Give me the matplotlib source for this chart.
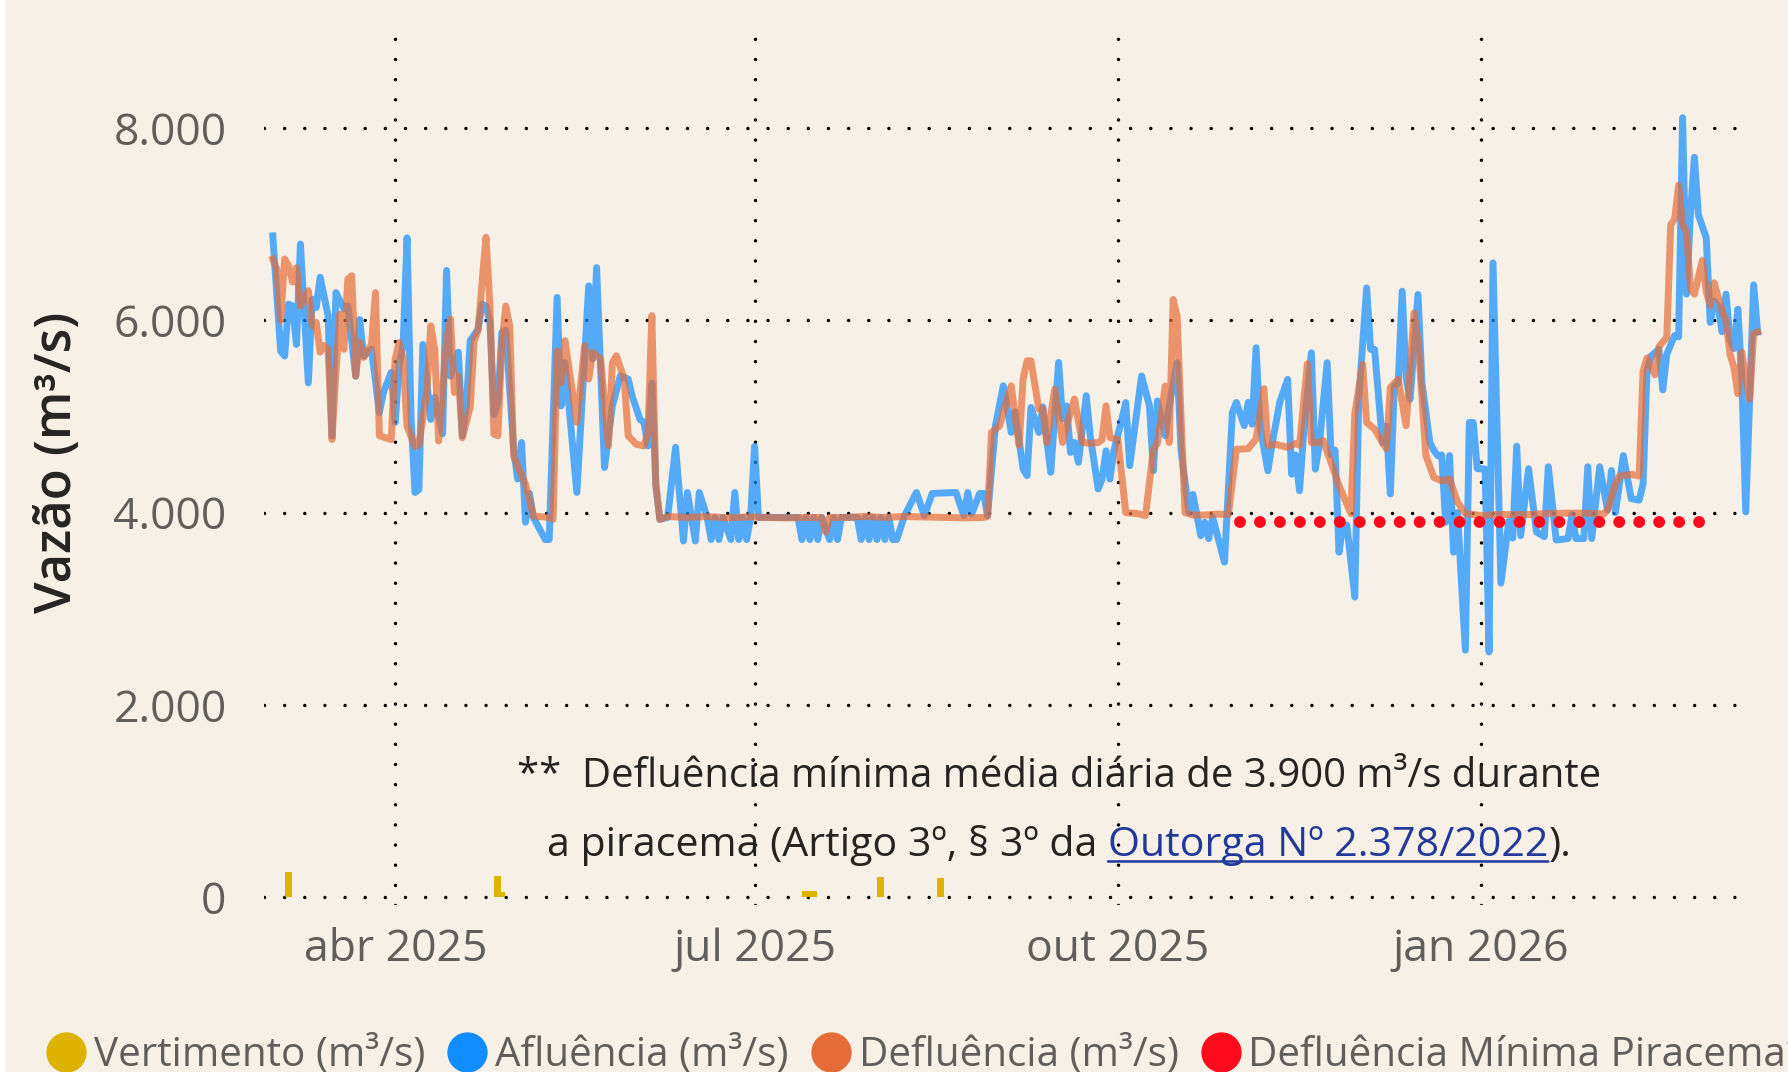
"""
Vazoes diarias (afluencia, defluencia, vertimento) mar/2025 - mar/2026
Saida: out.png (1788 x 1072)
"""

import pandas as pd
import matplotlib
matplotlib.use("Agg")
import matplotlib.pyplot as plt
from matplotlib.lines import Line2D
from matplotlib.patches import Rectangle

# --- dados (dias contados a partir de 01/03/2025) ---
INICIO = pd.Timestamp("2025-03-01")

dias_afl = [
    0, 2, 3, 4, 5, 6, 7, 9, 10, 11, 12, 14, 15, 16, 18, 19, 21, 22, 23, 25,
    27, 28, 30, 31, 32, 33, 34, 35, 36, 37, 38, 40, 41, 43, 44, 45, 47, 48, 49, 50,
    52, 53, 54, 55, 56, 57, 58, 59, 61, 62, 63, 64, 65, 66, 69, 70, 72, 73, 74, 77,
    80, 81, 82, 84, 86, 88, 90, 91, 93, 94, 95, 96, 97, 98, 100, 102, 104, 105, 107, 108,
    110, 111, 112, 113, 114, 116, 117, 118, 119, 120, 121, 122, 123, 133, 134, 135, 136, 137, 138, 139,
    141, 142, 143, 144, 148, 149, 150, 151, 152, 153, 154, 155, 156, 157, 158, 160, 163, 165, 167, 173,
    175, 176, 177, 179, 180, 181, 183, 185, 187, 188, 190, 191, 192, 194, 195, 197, 199, 200, 201, 202,
    203, 204, 206, 207, 209, 210, 211, 212, 213, 215, 216, 217, 220, 222, 223, 224, 226, 227, 229, 230,
    232, 233, 235, 236, 237, 238, 241, 243, 244, 246, 247, 248, 249, 250, 252, 253, 255, 257, 258, 259,
    260, 261, 263, 264, 265, 267, 268, 269, 270, 271, 272, 274, 275, 277, 278, 279, 281, 282, 283, 284,
    285, 286, 287, 288, 290, 291, 293, 294, 295, 296, 297, 298, 299, 300, 302, 303, 304, 305, 306, 307,
    308, 309, 311, 313, 314, 315, 316, 318, 320, 321, 322, 323, 325, 328, 329, 330, 332, 333, 334, 336,
    338, 339, 340, 342, 344, 346, 347, 348, 349, 351, 352, 353, 355, 356, 357, 358, 359, 360, 361, 363,
    364, 365, 366, 367, 368, 369, 370, 371, 372, 373, 375, 376,
]
afluencia = [
    6880, 5680, 5630, 6170, 6150, 5750, 6795, 5350, 6220, 6135, 6450, 6050, 4800, 6290, 6120, 6150, 5420, 6010, 5630, 5700,
    5040, 5250, 5460, 4940, 5530, 5740, 6860, 5010, 4210, 4240, 5750, 4970, 5200, 4820, 6520, 5420, 5670, 4800, 5100, 5790,
    5910, 6170, 6150, 5980, 5020, 5130, 5875, 5900, 4660, 4350, 4730, 3900, 4200, 3950, 3720, 3720, 6240, 5110, 5560, 4210,
    6360, 5600, 6550, 4470, 5110, 5424, 5390, 5215, 4970, 4940, 4695, 5350, 4280, 3930, 3950, 4680, 3705, 4210, 3705, 4210,
    3950, 3720, 3950, 3720, 3950, 3720, 4210, 3720, 3950, 3720, 3950, 4690, 3950, 3950, 3720, 3950, 3720, 3950, 3720, 3950,
    3720, 3950, 3720, 3950, 3950, 3720, 3950, 3720, 3950, 3720, 3950, 3720, 3950, 3720, 3720, 3970, 4210, 3970, 4200, 4210,
    3970, 4210, 3990, 4200, 4200, 3970, 4905, 5320, 4835, 5050, 4454, 4385, 5095, 4835, 5100, 4420, 5563, 4974, 5110, 4627,
    4730, 4523, 5217, 4800, 4246, 4350, 4643, 4350, 4643, 4972, 5145, 4488, 5422, 5111, 4436, 5163, 4800, 5111, 5560, 4650,
    4000, 4190, 3760, 3900, 3730, 3950, 3485, 5042, 5147, 4905, 5147, 4920, 5716, 4900, 4436, 4700, 5150, 5387, 4400, 4600,
    4228, 4800, 5664, 4453, 4700, 5560, 4600, 4650, 3588, 3870, 3870, 3121, 5180, 6339, 5700, 5700, 4730, 4900, 4194, 5318,
    5350, 6304, 5400, 5180, 6270, 5353, 4730, 4650, 4592, 4600, 3900, 4594, 3588, 4000, 2568, 4938, 4938, 4457, 4457, 4453,
    2550, 6599, 3266, 3910, 3735, 4692, 3760, 4457, 3800, 3774, 3750, 4477, 3715, 3730, 3980, 3730, 3730, 4477, 3730, 4477,
    4027, 4438, 4000, 4594, 4145, 4130, 4300, 5473, 5629, 5700, 5277, 5650, 5844, 5830, 8109, 6274, 7113, 7699, 7100, 6859,
    5980, 6200, 6150, 5883, 6274, 5800, 5707, 6117, 5400, 4008, 6371, 5880,
]

dias_def = [
    0, 1, 2, 3, 4, 5, 6, 7, 9, 10, 11, 12, 13, 14, 15, 16, 17, 18, 19, 20,
    21, 22, 23, 25, 26, 27, 30, 31, 32, 33, 34, 36, 37, 39, 40, 41, 42, 44, 45, 46,
    47, 48, 50, 51, 52, 53, 54, 55, 56, 57, 58, 59, 60, 61, 62, 64, 66, 70, 71, 72,
    73, 74, 77, 79, 80, 81, 83, 85, 86, 87, 89, 90, 92, 94, 95, 96, 97, 98, 100, 105,
    110, 115, 120, 125, 130, 135, 139, 140, 141, 145, 150, 155, 160, 165, 170, 175, 180, 181, 182, 184,
    187, 188, 189, 190, 191, 192, 194, 195, 196, 198, 200, 201, 203, 205, 207, 209, 210, 211, 212, 214,
    216, 219, 221, 223, 224, 226, 227, 228, 229, 230, 231, 233, 236, 239, 242, 244, 247, 249, 251, 252,
    254, 257, 259, 260, 262, 263, 265, 266, 268, 270, 273, 274, 276, 277, 279, 280, 282, 283, 285, 287,
    289, 290, 292, 294, 296, 298, 300, 302, 306, 310, 318, 322, 328, 333, 337, 338, 340, 341, 344, 346,
    347, 348, 350, 351, 353, 354, 355, 356, 357, 358, 359, 360, 362, 363, 364, 365, 367, 368, 369, 370,
    371, 372, 373, 374, 375, 376,
]
defluencia = [
    6640, 6535, 6000, 6640, 6570, 6400, 6550, 6150, 6310, 5945, 5980, 5670, 5740, 5700, 4760, 5460, 6066, 5700, 6430, 6465,
    5420, 5770, 5615, 5750, 6290, 4800, 4760, 5600, 5770, 5600, 4900, 4690, 4710, 5250, 5944, 5700, 4745, 5790, 6014, 5250,
    5424, 4780, 5100, 5790, 5900, 6400, 6865, 6150, 4816, 4800, 5736, 6150, 5945, 4590, 4486, 4295, 3965, 3950, 3930, 5684,
    5350, 5790, 4940, 5736, 5390, 5667, 5600, 4695, 5560, 5632, 5390, 4800, 4712, 4695, 4833, 6050, 4300, 3930, 3960, 3950,
    3960, 3945, 3955, 3950, 3945, 3950, 3950, 3800, 3950, 3950, 3960, 3950, 3960, 3955, 3950, 3945, 3950, 3960, 4835, 4900,
    5320, 5000, 4700, 5390, 5580, 5580, 5078, 5078, 4731, 5286, 4731, 4900, 5182, 4731, 4720, 4730, 4760, 5111, 4783, 4760,
    4000, 3990, 3969, 4660, 4720, 5318, 4730, 6218, 6045, 5000, 4000, 3975, 3975, 3985, 3980, 4660, 4665, 4767, 5290, 4700,
    4710, 4680, 4720, 4700, 5550, 4730, 4730, 4750, 4520, 4283, 3990, 5030, 5543, 4938, 4870, 4800, 4663, 5301, 5388, 4905,
    6080, 5800, 4594, 4367, 4330, 4350, 4110, 3990, 3970, 3980, 3980, 3990, 3995, 3995, 3985, 4027, 4301, 4379, 4399, 4380,
    5473, 5610, 5434, 5727, 5824, 6996, 7055, 7406, 7000, 6918, 6332, 6274, 6625, 6300, 6156, 6391, 6100, 6000, 5650, 5512,
    5238, 5668, 5400, 5180, 5863, 5880,
]

dias_vert = [4, 57, 58, 135, 136, 137, 154, 169]
vertimento = [260, 218, 50, 60, 60, 60, 208, 198]

piracema_periodo = ["2025-11-01", "2026-02-28"]
piracema_min = 3900

ticks_x = ["2025-04-01", "2025-07-01", "2025-10-01", "2026-01-01"]
ticks_x_lbl = ["abr 2025", "jul 2025", "out 2025", "jan 2026"]
ticks_y = [0, 2000, 4000, 6000, 8000]

series_lbl = ["Vertimento (m³/s)", "Afluência (m³/s)", "Defluência (m³/s)",
              "Defluência Mínima Piracema*"]

# --- cores / estilo ---
FUNDO = "#F7F0E6"
C_VERT = "#DDB300"
C_AFL = "#118DFF"
C_DEF = "#E66C37"
C_PIR = "#FF0A1C"
C_TICK = "#605E5C"
C_TXT = "#252423"
C_LINK = "#22399A"

plt.rcParams["font.family"] = ["Open Sans", "DejaVu Sans"]

fig = plt.figure(figsize=(17.88, 10.72), dpi=100, facecolor=FUNDO)
ax = fig.add_axes([0.1477, 0.1558, 0.8311, 0.8106])
ax.set_facecolor(FUNDO)
fig.patches.append(Rectangle((0, 0), 5 / 1788, 1, transform=fig.transFigure,
                             facecolor="white", edgecolor="none", zorder=0))


def datas(dias):
    return INICIO + pd.to_timedelta(dias, unit="D")


ax.bar(datas(dias_vert), vertimento, width=1.8, color=C_VERT, zorder=2)
ax.plot(datas(dias_afl), afluencia, color=C_AFL, alpha=0.7, lw=5.0,
        solid_joinstyle="round", zorder=3, clip_on=False)
ax.plot(datas(dias_def), defluencia, color=C_DEF, alpha=0.7, lw=5.0,
        solid_joinstyle="round", zorder=4, clip_on=False)
pir_x = pd.to_datetime(piracema_periodo)
# pontinhos: traco quase nulo com ponta redonda
ax.plot(pir_x, [piracema_min, piracema_min], color=C_PIR, lw=8.6,
        linestyle=(0, (0.001, 1.67)), dash_capstyle="round", zorder=5)

ax.set_xlim(INICIO + pd.Timedelta(days=-2.2), INICIO + pd.Timedelta(days=374.1))
ax.set_ylim(-83, 8960)

ax.set_xticks(pd.to_datetime(ticks_x))
ax.set_xticklabels(ticks_x_lbl)
ax.set_yticks(ticks_y)
ax.set_yticklabels([f"{v:,.0f}".replace(",", ".") for v in ticks_y])
ax.tick_params(axis="both", length=0, labelsize=32, labelcolor=C_TICK)
ax.tick_params(axis="y", pad=27)
ax.tick_params(axis="x", pad=16)
for s in ax.spines.values():
    s.set_visible(False)
ax.grid(True, color="black", lw=2.5, linestyle=(0, (0.001, 5.8)),
        dash_capstyle="round", zorder=1)
ax.set_axisbelow(True)

ax.set_ylabel("Vazão (m³/s)", fontsize=36.5, fontweight="semibold", color=C_TXT, va="center")
ax.yaxis.set_label_coords(-0.139, 0.509)

# nota sobre a piracema
ax.text(0.535, 0.147, "**  Defluência mínima média diária de 3.900 m³/s durante",
        transform=ax.transAxes, ha="center", va="center", fontsize=28.9,
        color=C_TXT, zorder=6)
fs2 = 29.6
t1 = ax.text(0.3, 0.069, "a piracema (Artigo 3º, § 3º da ", transform=ax.transAxes,
             ha="left", va="center", fontsize=fs2, color=C_TXT, zorder=6)
t2 = ax.annotate("Outorga Nº 2.378/2022", xy=(1, 0), xycoords=t1, ha="left",
                 va="bottom", fontsize=fs2, color=C_LINK, zorder=6)
t3 = ax.annotate(").", xy=(1, 0), xycoords=t2, ha="left", va="bottom",
                 fontsize=fs2, color=C_TXT, zorder=6)
ax.annotate("", xy=(1, 0.1), xycoords=t2, xytext=(0, 0.1), textcoords=t2,
            arrowprops=dict(arrowstyle="-", color=C_LINK, lw=1.8,
                            shrinkA=0, shrinkB=0))

fig.canvas.draw()
r = fig.canvas.get_renderer()
larg = sum(t.get_window_extent(r).width for t in (t1, t2, t3))
xc = ax.transAxes.transform((0.535, 0))[0]
t1.set_x(ax.transAxes.inverted().transform((xc - larg / 2, 0))[0])

# legenda
handles = [Line2D([], [], marker="o", ls="", markersize=28, color=c)
           for c in (C_VERT, C_AFL, C_DEF, C_PIR)]
fig.legend(handles, series_lbl, loc="center left", bbox_to_anchor=(0.0274, 0.0153),
           ncol=4, frameon=False, fontsize=29.1, labelcolor=C_TICK,
           handlelength=0.85, handletextpad=0.26, columnspacing=0.62,
           borderpad=0, borderaxespad=0)

fig.savefig("out.png", dpi=100, facecolor=FUNDO)
